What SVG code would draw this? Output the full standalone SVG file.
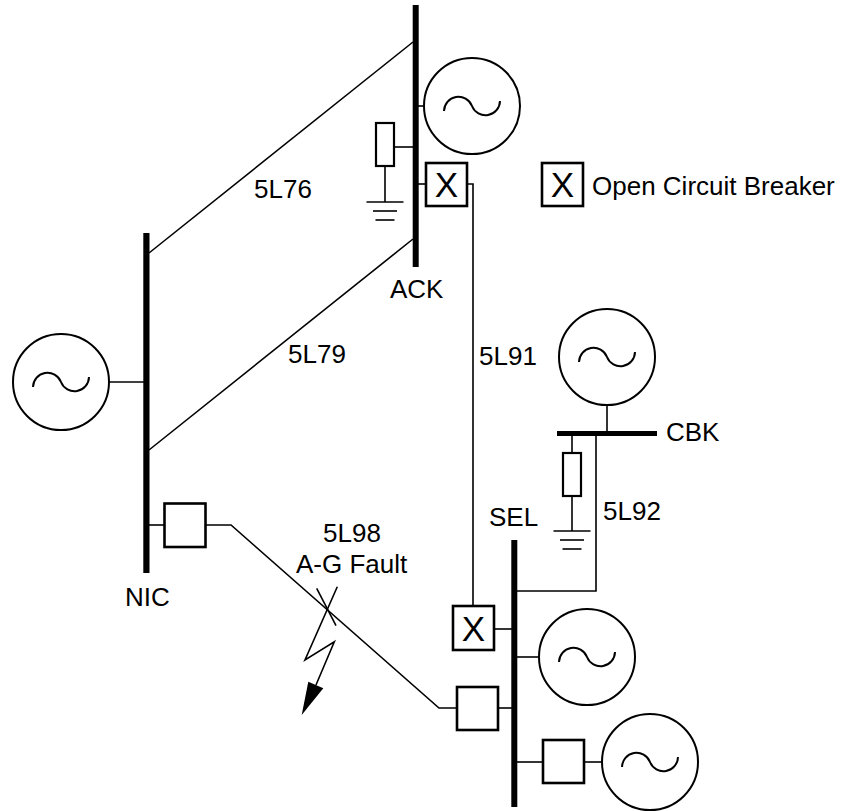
<svg xmlns="http://www.w3.org/2000/svg" width="842" height="811" viewBox="0 0 842 811">
<style>
.ln{fill:none;stroke:#000;stroke-width:1.6}
.bus{fill:#000;stroke:none}
.box{fill:#fff;stroke:#000;stroke-width:2.6}
.gen{fill:#fff;stroke:#000;stroke-width:2}
.sine{fill:none;stroke:#000;stroke-width:2}
.res{fill:#fff;stroke:#000;stroke-width:2.2}
.lbl{font-family:"Liberation Sans",Arial,sans-serif;font-size:26px;fill:#000}
.xl{font-family:"Liberation Sans",Arial,sans-serif;font-size:35px;fill:#000}
</style>
<rect width="842" height="811" fill="#fff"/>
<g id="connectors">
<path class="ln" d="M149,253 L413,42"/>
<path class="ln" d="M149,450 L413,239"/>
<path class="ln" d="M467,184 H473 V606"/>
<path class="ln" d="M596,436 V591 H517"/>
<path class="ln" d="M206,525 H231 L439,708 H457"/>
</g>
<g id="bus-ACK">
<rect class="bus" x="412.7" y="5" width="6" height="262"/>
<text class="lbl" x="390" y="298">ACK</text>
</g>
<g id="bus-NIC">
<rect class="bus" x="143.3" y="233" width="6.2" height="340"/>
<text class="lbl" x="125" y="606">NIC</text>
</g>
<g id="bus-SEL">
<rect class="bus" x="511.3" y="540" width="6" height="267"/>
<text class="lbl" x="489" y="526">SEL</text>
</g>
<g id="bus-CBK">
<rect class="bus" x="557" y="431" width="100" height="5"/>
<text class="lbl" x="666" y="441">CBK</text>
</g>
<g id="line-labels">
<text class="lbl" x="254" y="198">5L76</text>
<text class="lbl" x="288" y="363">5L79</text>
<text class="lbl" x="479" y="365">5L91</text>
<text class="lbl" x="603" y="520">5L92</text>
<text class="lbl" x="323" y="542">5L98</text>
<text class="lbl" x="296" y="573">A-G Fault</text>
</g>
<g id="gen-NIC">
<line class="ln" x1="109" y1="382" x2="144" y2="382"/>
<circle class="gen" cx="61" cy="382" r="48"/>
<path class="sine" d="M33,387 A14.5,14.5 0 0 1 61,382 A14.5,14.5 0 0 0 89,377"/>
</g>
<g id="gen-ACK">
<line class="ln" x1="418" y1="106" x2="424" y2="106"/>
<circle class="gen" cx="472" cy="106" r="48"/>
<path class="sine" d="M444,111 A14.5,14.5 0 0 1 472,106 A14.5,14.5 0 0 0 500,101"/>
</g>
<g id="gen-CBK">
<line class="ln" x1="607" y1="405" x2="607" y2="432"/>
<circle class="gen" cx="607" cy="357" r="48"/>
<path class="sine" d="M579,362 A14.5,14.5 0 0 1 607,357 A14.5,14.5 0 0 0 635,352"/>
</g>
<g id="gen-SEL1">
<line class="ln" x1="517" y1="657" x2="539" y2="657"/>
<circle class="gen" cx="587" cy="657" r="48"/>
<path class="sine" d="M559,662 A14.5,14.5 0 0 1 587,657 A14.5,14.5 0 0 0 615,652"/>
</g>
<g id="gen-SEL2">
<line class="ln" x1="584" y1="762" x2="602" y2="762"/>
<circle class="gen" cx="650" cy="762" r="48"/>
<path class="sine" d="M622,767 A14.5,14.5 0 0 1 650,762 A14.5,14.5 0 0 0 678,757"/>
</g>
<g id="load-ACK">
<line class="ln" x1="394" y1="147" x2="413" y2="147"/>
<line class="ln" x1="385" y1="166" x2="385" y2="202"/>
<rect class="res" x="376" y="123" width="18" height="43"/>
<line class="ln" x1="366.5" y1="202" x2="403.5" y2="202"/>
<line class="ln" x1="373" y1="211" x2="397" y2="211"/>
<line class="ln" x1="375.5" y1="220" x2="394.5" y2="220"/>
</g>
<g id="load-CBK">
<line class="ln" x1="572" y1="436" x2="572" y2="453"/>
<line class="ln" x1="572" y1="496" x2="572" y2="531"/>
<rect class="res" x="563" y="453" width="18" height="43"/>
<line class="ln" x1="553.5" y1="531" x2="590.5" y2="531"/>
<line class="ln" x1="560" y1="540" x2="584" y2="540"/>
<line class="ln" x1="562.5" y1="549" x2="581.5" y2="549"/>
</g>
<g id="brk-ACK">
<line class="ln" x1="418" y1="184" x2="426" y2="184"/>
<rect class="box" x="426" y="163" width="41" height="43"/>
<text class="xl" x="446.5" y="197" text-anchor="middle">X</text>
</g>
<g id="brk-SELX">
<line class="ln" x1="494" y1="629" x2="512" y2="629"/>
<rect class="box" x="453" y="606" width="41" height="44"/>
<text class="xl" x="473.5" y="641" text-anchor="middle">X</text>
</g>
<g id="brk-SEL98">
<line class="ln" x1="498" y1="708" x2="512" y2="708"/>
<rect class="box" x="457" y="687" width="41" height="43"/>
</g>
<g id="brk-SELgen">
<line class="ln" x1="517" y1="762" x2="543" y2="762"/>
<rect class="box" x="543" y="740" width="41" height="43"/>
</g>
<g id="brk-NIC">
<line class="ln" x1="149" y1="525" x2="164" y2="525"/>
<rect class="box" x="164.5" y="503.5" width="41" height="43.5"/>
</g>
<g id="fault">
<line class="ln" x1="316.7" y1="588.3" x2="336" y2="625.7"/>
<path class="ln" d="M337.3,586.7 L305,660 L334.3,641.7 L316,685"/>
<polygon points="308.3,681.7 323.3,688.3 301.7,715" fill="#000"/>
</g>
<g id="legend">
<rect class="box" x="542" y="163" width="41" height="43"/>
<text class="xl" x="562.5" y="197" text-anchor="middle">X</text>
<text class="lbl" x="592" y="195">Open Circuit Breaker</text>
</g>
</svg>
